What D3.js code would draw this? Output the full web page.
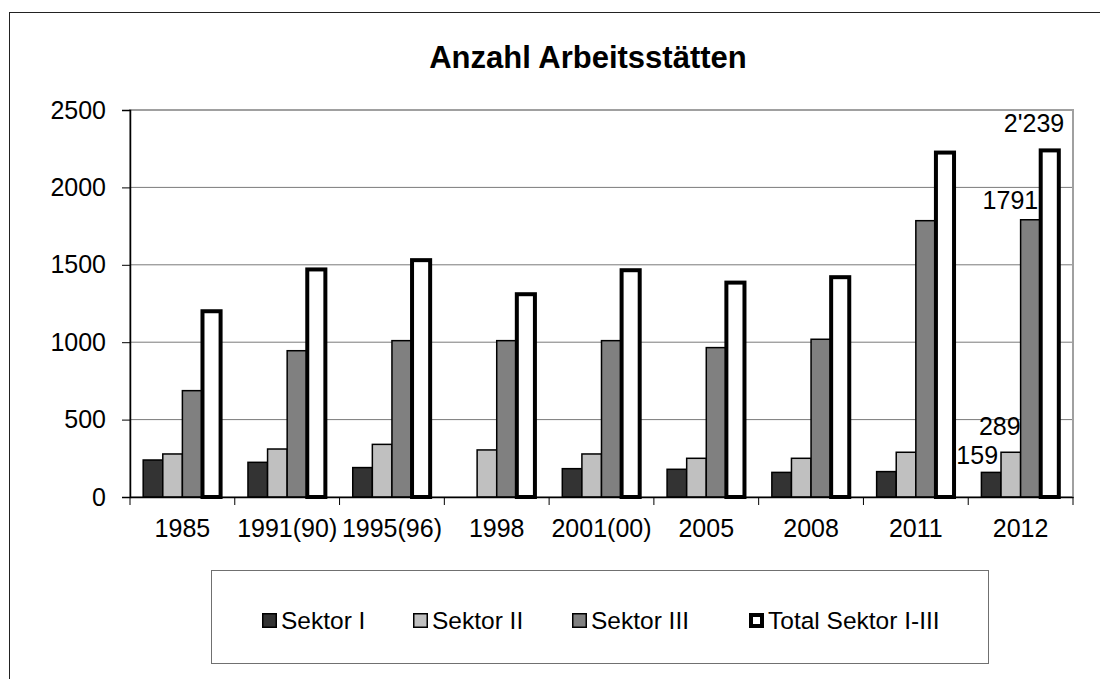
<!DOCTYPE html>
<html>
<head>
<meta charset="utf-8">
<script src="https://cdn.jsdelivr.net/npm/d3@7"></script>
<style>
  body { margin: 0; background: #fff; }
  svg { font-family: "Liberation Sans", Arial, sans-serif; }
</style>
</head>
<body>
<svg class="canvas"></svg>
<script>
/*
	Anzahl Arbeitsstaetten - grouped bar chart
*/

var dwidth = 1100;
var dheight = 679;

// data
var years = ["1985", "1991(90)", "1995(96)", "1998", "2001(00)", "2005", "2008", "2011", "2012"];
var seriesNames = ["Sektor I", "Sektor II", "Sektor III", "Total Sektor I-III"];
var sektor1 = [239, 224, 190, null, 183, 179, 159, 164, 159];
var sektor2 = [278, 310, 340, 304, 278, 250, 250, 289, 289];
var sektor3 = [687, 945, 1010, 1010, 1010, 965, 1019, 1785, 1791];
var total = [1200, 1470, 1530, 1310, 1465, 1385, 1420, 2225, 2239];
var yTicks = [0, 500, 1000, 1500, 2000, 2500];

// labels shown only on the last group (text, series, value)
var dataLabels = [
	{text: "159", s: 0, v: 159},
	{text: "289", s: 1, v: 289},
	{text: "1791", s: 2, v: 1791},
	{text: "2'239", s: 3, v: 2239}];
// manual shift of those labels, like in the original
var labelShift = [[-14, -8], [-11, -17], [-20, -11], [-16, -18]];

var fills = ["#333333", "#c0c0c0", "#808080", "#ffffff"];
var values = [sektor1, sektor2, sektor3, total];

var canv = d3.select(".canvas").attr("width", dwidth).attr("height", dheight);

// outer frame (runs past the picture edge)
canv.append("rect")
	.attr("x", 9.5).attr("y", 12.5)
	.attr("width", 1200).attr("height", 800)
	.style("fill", "none").style("stroke", "#222").style("stroke-width", 1);

// title
canv.append("text")
	.attr("x", 588).attr("y", 68)
	.text("Anzahl Arbeitsstätten")
	.attr("font-size", "31px")
	.attr("font-weight", "bold")
	.style("text-anchor", "middle");

//Scales
var pLeft = 130, pRight = 1073, pTop = 110, pBottom = 497;
var x0 = d3.scaleBand().domain(years).range([pLeft, pRight]);
var x1 = d3.scaleBand().domain(d3.range(4)).range([0, x0.bandwidth()]).paddingOuter(0.673);
var y = d3.scaleLinear().domain([0, 2500]).range([pBottom, pTop]);

// gridlines
canv.selectAll(".grid")
	.data(yTicks.slice(1))
	.enter().append("line")
	.attr("x1", pLeft).attr("x2", pRight)
	.attr("y1", function(d) { return y(d); })
	.attr("y2", function(d) { return y(d); })
	.style("stroke", "#7a7a7a").style("stroke-width", 1);

// plot area border
canv.append("rect")
	.attr("x", pLeft).attr("y", pTop)
	.attr("width", pRight - pLeft).attr("height", pBottom - pTop)
	.style("fill", "none").style("stroke", "#a0a0a0").style("stroke-width", 2);

// bars
var bw = x1.bandwidth();
values.forEach(function(arr, s) {
	canv.selectAll(".bar" + s)
		.data(arr.map(function(v, i) { return {v: v, year: years[i]}; }).filter(function(d) { return d.v != null; }))
		.enter().append("rect")
		.attr("x", function(d) { return x0(d.year) + x1(s) + (s == 3 ? 0.5 : 0); })
		.attr("y", function(d) { return y(d.v); })
		.attr("width", s == 3 ? bw - 1.5 : bw)
		.attr("height", function(d) { return pBottom - y(d.v); })
		.style("fill", fills[s])
		.style("stroke", "#000")
		.style("stroke-width", s == 3 ? 4 : 1.5);
});

// y axis
var yAxis = d3.axisLeft(y).tickValues(yTicks).tickSize(8).tickPadding(16).tickFormat(d3.format("d"));
var gy = canv.append("g").attr("transform", "translate(" + pLeft + ",0)").call(yAxis);
gy.select(".domain").style("stroke", "#000").style("stroke-width", 1.5);
gy.selectAll(".tick line").style("stroke", "#000");
gy.selectAll("text").attr("font-size", "25px").style("fill", "#000").attr("font-family", null);

// x axis
var xAxis = d3.axisBottom(x0).tickSize(0).tickPadding(22);
var gx = canv.append("g").attr("transform", "translate(0," + pBottom + ")").call(xAxis);
gx.select(".domain").style("stroke", "#000").style("stroke-width", 1.5);
gx.selectAll("text").attr("font-size", "25px").style("fill", "#000").attr("font-family", null);
gx.selectAll(".sep")
	.data(years.concat(["end"]))
	.enter().append("line")
	.attr("x1", function(d, i) { return pLeft + i * x0.step(); })
	.attr("x2", function(d, i) { return pLeft + i * x0.step(); })
	.attr("y1", 0).attr("y2", 8)
	.style("stroke", "#000");

// data labels on 2012
var lastYear = years[years.length - 1];
canv.selectAll(".dlabel")
	.data(dataLabels)
	.enter().append("text")
	.attr("x", function(d, i) { return x0(lastYear) + x1(d.s) + bw / 2 + labelShift[i][0]; })
	.attr("y", function(d, i) { return y(d.v) + labelShift[i][1]; })
	.text(function(d) { return d.text; })
	.attr("font-size", "25px")
	.style("text-anchor", "middle");

// legend
canv.append("rect")
	.attr("x", 211.5).attr("y", 570.5)
	.attr("width", 777).attr("height", 93)
	.style("fill", "none").style("stroke", "#707070").style("stroke-width", 1);

var legendX = [262, 413, 572, 749];
var lg = canv.selectAll(".legend")
	.data(seriesNames)
	.enter().append("g")
	.attr("transform", function(d, i) { return "translate(" + legendX[i] + ",613)"; });
lg.append("rect")
	.attr("x", function(d, i) { return i == 3 ? 2 : 0.75; })
	.attr("y", function(d, i) { return i == 3 ? 2 : 0.75; })
	.attr("width", function(d, i) { return i == 3 ? 11 : 13.5; })
	.attr("height", function(d, i) { return i == 3 ? 11 : 13.5; })
	.style("fill", function(d, i) { return fills[i]; })
	.style("stroke", "#000")
	.style("stroke-width", function(d, i) { return i == 3 ? 4 : 1.5; });
lg.append("text")
	.attr("x", 19).attr("y", 15.5)
	.text(function(d) { return d; })
	.attr("font-size", "24.5px");
</script>
</body>
</html>
